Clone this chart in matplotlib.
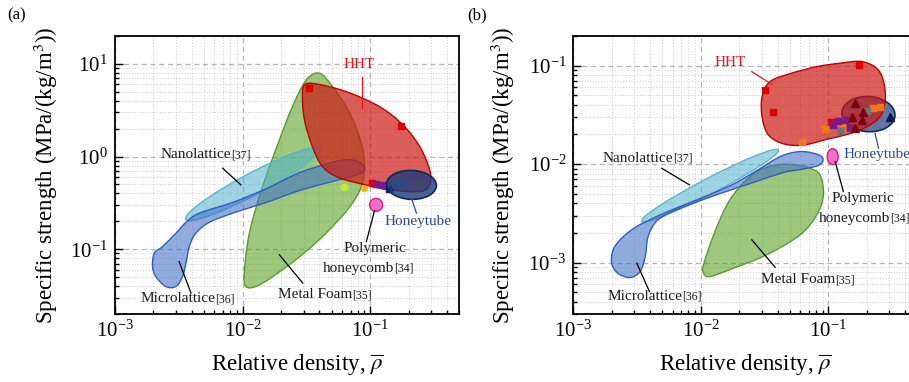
import numpy as np
import matplotlib
matplotlib.use("Agg")
import matplotlib.pyplot as plt
from matplotlib.path import Path
from matplotlib.patches import PathPatch
from matplotlib.transforms import Affine2D
from matplotlib.colors import to_rgba

plt.rcParams["font.family"] = ["Liberation Serif", "DejaVu Serif"]
plt.rcParams["mathtext.fontset"] = "stix"

# ---- panel (a): specific strength, MPa/(kg/m^3) ----
hht_a_x = [0.0305, 0.0377, 0.0649, 0.118, 0.180, 0.244, 0.292, 0.292,
           0.244, 0.142, 0.0989, 0.0574, 0.0423, 0.0352, 0.0305, 0.0294]
hht_a_y = [5.93, 6.08, 5.02, 3.46, 2.20, 1.28, 0.719, 0.495,
           0.419, 0.437, 0.483, 0.589, 0.78, 1.28, 2.49, 4.44]

foam_a_x = [0.04, 0.0506, 0.0689, 0.0849, 0.0901, 0.0849, 0.0689, 0.0452, 0.0279,
            0.0171, 0.0127, 0.0106, 0.0103, 0.0113, 0.0143, 0.0194, 0.0245, 0.0315]
foam_a_y = [7.94, 5.69, 2.96, 1.41, 0.774, 0.471, 0.286, 0.150, 0.0828,
            0.0504, 0.0396, 0.0396, 0.0556, 0.150, 0.471, 1.51, 3.44, 6.72]

micro_a_x = [0.00197, 0.00203, 0.00236, 0.0030, 0.0036, 0.00457, 0.00835, 0.0153,
             0.0279, 0.0508, 0.0729, 0.0901, 0.0824, 0.0508, 0.0279, 0.0153, 0.00835,
             0.00548, 0.0043, 0.00382, 0.0036, 0.00338, 0.0030, 0.0025, 0.00209]
micro_a_y = [0.065, 0.0908, 0.107, 0.149, 0.195, 0.245, 0.32, 0.45,
             0.67, 0.87, 0.92, 0.780, 0.65, 0.54, 0.43, 0.32, 0.245,
             0.195, 0.149, 0.107, 0.0708, 0.0507, 0.0396, 0.0396, 0.0507]

# ellipses: centre (data), half axes (decades), tilt (deg, in log space)
nano_a = (0.0120, 0.506, 0.651, 0.108, 36.5)
tube_a = (0.21, 0.495, 0.196, 0.156, -5)
poly_a = (0.111, 0.301, 0.051, 0.070, 0)

red_a_x = [0.033, 0.175, 0.104]
red_a_y = [5.5, 2.14, 0.52]
purple_a_x = [0.111, 0.125]
purple_a_y = [0.51, 0.497]
navy_a_x = [0.141]
navy_a_y = [0.45]
grey_a_x = [0.155, 0.18]
grey_a_y = [0.5, 0.5]
brown_a_x = [0.216, 0.251]
brown_a_y = [0.5, 0.5]

# ---- panel (b) ----
hht_b_x = [0.0349, 0.0501, 0.0811, 0.124, 0.184, 0.245, 0.274, 0.278, 0.254,
           0.201, 0.148, 0.0977, 0.0634, 0.0442, 0.0337, 0.0302, 0.0302]
hht_b_y = [0.0689, 0.0829, 0.0977, 0.106, 0.110, 0.091, 0.0641, 0.0431, 0.0303,
           0.024, 0.0204, 0.0179, 0.0156, 0.0161, 0.0199, 0.0303, 0.0484]

foam_b_x = [0.0719, 0.0861, 0.0914, 0.0811, 0.060, 0.0329, 0.018, 0.0118,
            0.0105, 0.0105, 0.0126, 0.016, 0.0203, 0.0275, 0.0394, 0.0565]
foam_b_y = [0.00906, 0.00776, 0.00486, 0.00305, 0.00191, 0.0012, 0.000875, 0.000721,
            0.000778, 0.000948, 0.00191, 0.00385, 0.00591, 0.0084, 0.00982, 0.00982]

micro_b_x = [0.0020, 0.00206, 0.00242, 0.00305, 0.00401, 0.00574, 0.00988, 0.017,
             0.0267, 0.0418, 0.060, 0.083, 0.0908, 0.083, 0.060, 0.0442, 0.0243,
             0.0134, 0.00824, 0.00574, 0.00447, 0.00386, 0.00366, 0.00334, 0.00279, 0.00225]
micro_b_y = [0.000977, 0.00136, 0.00179, 0.00227, 0.00273, 0.00337, 0.00447, 0.00605,
             0.0084, 0.0119, 0.0134, 0.0125, 0.0111, 0.00966, 0.0088, 0.0082, 0.00634,
             0.0049, 0.00388, 0.00322, 0.00261, 0.00184, 0.00115, 0.00081, 0.000705, 0.000773]

nano_b = (0.0118, 0.00603, 0.647, 0.074, 34.2)
tube_b = (0.206, 0.0322, 0.209, 0.178, -10)
poly_b = (0.108, 0.0119, 0.043, 0.081, 0)

red_b_x = [0.0319, 0.037, 0.175, 0.1045]
red_b_y = [0.0566, 0.0336, 0.1016, 0.0266]
orange_b_x = [0.0618, 0.094, 0.127, 0.225, 0.254]
orange_b_y = [0.0166, 0.0228, 0.026, 0.037, 0.038]
grey_b_x = [0.123, 0.2]
grey_b_y = [0.0217, 0.035]
purple_b_x = [0.109, 0.12, 0.135, 0.148]
purple_b_y = [0.025, 0.0275, 0.028, 0.0235]
tri_b_x = [0.162, 0.188, 0.152, 0.183, 0.162]
tri_b_y = [0.0415, 0.034, 0.0304, 0.0281, 0.0235]
navytri_b_x = [0.302]
navytri_b_y = [0.0304]


def blob(xs, ys):
    # closed smooth outline (Catmull-Rom as cubic Bezier, in log space)
    p = np.column_stack([np.log10(xs), np.log10(ys)])
    n = len(p)
    verts = [p[0]]
    codes = [Path.MOVETO]
    for i in range(n):
        p0, p1, p2, p3 = p[i - 1], p[i], p[(i + 1) % n], p[(i + 2) % n]
        verts += [p1 + (p2 - p0) / 6, p2 - (p3 - p1) / 6, p2]
        codes += [Path.CURVE4] * 3
    verts.append(p[0])
    codes.append(Path.CLOSEPOLY)
    return Path(10 ** np.array(verts), codes)


def oval(spec):
    cx, cy, rx, ry, ang = spec
    tr = Affine2D().scale(rx, ry).rotate_deg(ang).translate(np.log10(cx), np.log10(cy))
    circ = Path.unit_circle()
    return Path(10 ** tr.transform(circ.vertices), circ.codes)


def region(ax, path, fc, ec, alpha, z, lw=1.0):
    ax.add_patch(PathPatch(path, facecolor=to_rgba(fc, alpha),
                           edgecolor=ec, lw=lw, zorder=z))


def tag(ax, x, y, name, ref=None, color="#1a1a1a", size=11):
    t = ax.text(x, y, name, ha="center", va="center", fontsize=size,
                color=color, zorder=10)
    if ref:
        ax.annotate(ref, xy=(1, 0), xycoords=t, ha="left", va="bottom",
                    fontsize=8.5, color=color, zorder=10)


def leader(ax, xs, ys, color="k"):
    ax.plot(xs, ys, color=color, lw=0.9, zorder=9)


def style(ax, ylim):
    ax.set_xscale("log")
    ax.set_yscale("log")
    ax.set_xlim(1e-3, 0.5)
    ax.set_ylim(*ylim)
    ax.set_axisbelow(True)
    ax.grid(which="major", color="#b3b3b3", ls=(0, (4, 3)), lw=0.9)
    ax.grid(which="minor", color="#d2d2d2", ls=":", lw=0.75)
    ax.tick_params(which="both", direction="in", labelsize=15, width=1)
    ax.tick_params(which="major", length=6, pad=5)
    ax.tick_params(which="minor", length=3)
    for s in ax.spines.values():
        s.set_linewidth(1.3)
    ax.set_xlabel(r"Relative density, $\overline{\rho}$", fontsize=16.5)
    ax.set_ylabel("Specific strength (MPa/(kg/m$^3$))", fontsize=16.5)


fig = plt.figure(figsize=(9.09, 3.82), dpi=100)
ax_a = fig.add_axes([0.1265, 0.178, 0.379, 0.7277])
ax_b = fig.add_axes([0.6307, 0.178, 0.3787, 0.7277])

GREEN, GREEN_E = "#5ca426", "#5a9a30"
CYAN, CYAN_E = "#50b4cd", "#5ab4d0"
BLUE, BLUE_E = "#416fc7", "#2f5fc0"
RED, RED_E = "#cc1a14", "#c00000"
NAVY, NAVY_E = "#1c3a7a", "#0d2a5c"
PINK, PINK_E = "#f060c0", "#d81b8c"

# ---------------- (a) ----------------
ax = ax_a
style(ax, (0.02, 20))
region(ax, blob(foam_a_x, foam_a_y), GREEN, GREEN_E, 0.6, 2)
region(ax, oval(nano_a), CYAN, CYAN_E, 0.55, 3)
region(ax, blob(micro_a_x, micro_a_y), BLUE, BLUE_E, 0.58, 4)
region(ax, blob(hht_a_x, hht_a_y), RED, RED_E, 0.7, 5)
ax.plot(red_a_x, red_a_y, "s", color="#e00000", ms=4.5, zorder=6)
ax.plot(purple_a_x, purple_a_y, "s", color="#7a1a8a", ms=4.5, zorder=6)
ax.plot(navy_a_x, navy_a_y, "s", color="#1a1a6e", ms=4.5, zorder=6)
ax.plot(grey_a_x, grey_a_y, "s", color="#5a8aa0", ms=4.5, zorder=6)
ax.plot(brown_a_x, brown_a_y, "s", color="#c8822a", ms=4.5, zorder=6)
ax.plot([0.0628], [0.468], "o", color="#c8e632", ms=4.5, zorder=6)
ax.plot([0.09], [0.46], "o", color="#ffb000", ms=4, zorder=6)
region(ax, oval(tube_a), NAVY, NAVY_E, 0.8, 7, lw=1.2)
region(ax, oval(poly_a), PINK, PINK_E, 0.9, 7)

tag(ax, 0.0824, 9.76, "HHT", color="#e8141c")
leader(ax, [0.0865, 0.0865], [7.3, 3.33], color="#e8141c")
tag(ax, 0.00428, 1.04, "Nanolattice", "[37]")
leader(ax, [0.00697, 0.0097], [0.75, 0.495])
tag(ax, 0.00311, 0.0294, "Microlattice", "[36]")
leader(ax, [0.00318, 0.00394], [0.0736, 0.0336])
tag(ax, 0.0372, 0.0322, "Metal Foam", "[35]")
leader(ax, [0.0194, 0.0296], [0.0871, 0.0431])
tag(ax, 0.108, 0.103, "Polymeric")
tag(ax, 0.0813, 0.0625, "honeycomb", "[34]")
leader(ax, [0.108, 0.0932], [0.261, 0.121])
tag(ax, 0.237, 0.199, "Honeytube", color="#2e4a9e")
leader(ax, [0.21, 0.23], [0.356, 0.245], color="#2e4a9e")
ax.yaxis.set_label_coords(-0.16, 0.5)
ax.xaxis.set_label_coords(0.531, -0.135)

# ---------------- (b) ----------------
ax = ax_b
style(ax, (3e-4, 0.2))
region(ax, blob(foam_b_x, foam_b_y), GREEN, GREEN_E, 0.6, 2)
region(ax, oval(nano_b), CYAN, CYAN_E, 0.55, 3)
region(ax, blob(micro_b_x, micro_b_y), BLUE, BLUE_E, 0.58, 4)
region(ax, oval(tube_b), NAVY, NAVY_E, 0.7, 5, lw=1.2)
region(ax, blob(hht_b_x, hht_b_y), RED, RED_E, 0.7, 6)
region(ax, oval(poly_b), PINK, PINK_E, 0.9, 6)
ax.plot(red_b_x, red_b_y, "s", color="#e00000", ms=4.5, zorder=7)
ax.plot(orange_b_x, orange_b_y, "s", color="#f07818", ms=4.5, zorder=7)
ax.plot(grey_b_x, grey_b_y, "s", color="#707070", ms=4.5, zorder=7)
ax.plot(purple_b_x, purple_b_y, "s", color="#7a1a8a", ms=4.5, zorder=7)
ax.plot(tri_b_x, tri_b_y, "^", color="#7a0010", ms=5.5, zorder=7)
ax.plot(navytri_b_x, navytri_b_y, "^", color="#0a1a4a", ms=5.5, zorder=7)

tag(ax, 0.017, 0.107, "HHT", color="#e8141c")
leader(ax, [0.0251, 0.036], [0.0869, 0.0646], color="#e8141c")
tag(ax, 0.00323, 0.01145, "Nanolattice", "[37]")
leader(ax, [0.00494, 0.00814], [0.00906, 0.00615])
tag(ax, 0.00364, 0.000452, "Microlattice", "[36]")
leader(ax, [0.00315, 0.00395], [0.000984, 0.000508])
tag(ax, 0.0582, 0.000667, "Metal Foam", "[35]")
leader(ax, [0.0251, 0.0382], [0.0017, 0.000896])
tag(ax, 0.188, 0.0045, "Polymeric")
tag(ax, 0.16, 0.00282, "honeycomb", "[34]")
leader(ax, [0.113, 0.131], [0.0106, 0.00526])
ax.text(0.131, 0.0124, "Honeytube", ha="left", va="center", fontsize=11,
        color="#2e4a9e", zorder=10)
leader(ax, [0.232, 0.247], [0.0206, 0.0145], color="#2e4a9e")
ax.yaxis.set_label_coords(-0.164, 0.5)
ax.xaxis.set_label_coords(0.501, -0.135)

fig.text(16.7 / 909, 1 - 15 / 382, "(a)", ha="center", va="center", fontsize=12)
fig.text(476.7 / 909, 1 - 15 / 382, "(b)", ha="center", va="center", fontsize=12)

fig.savefig("out.png", dpi=100)
